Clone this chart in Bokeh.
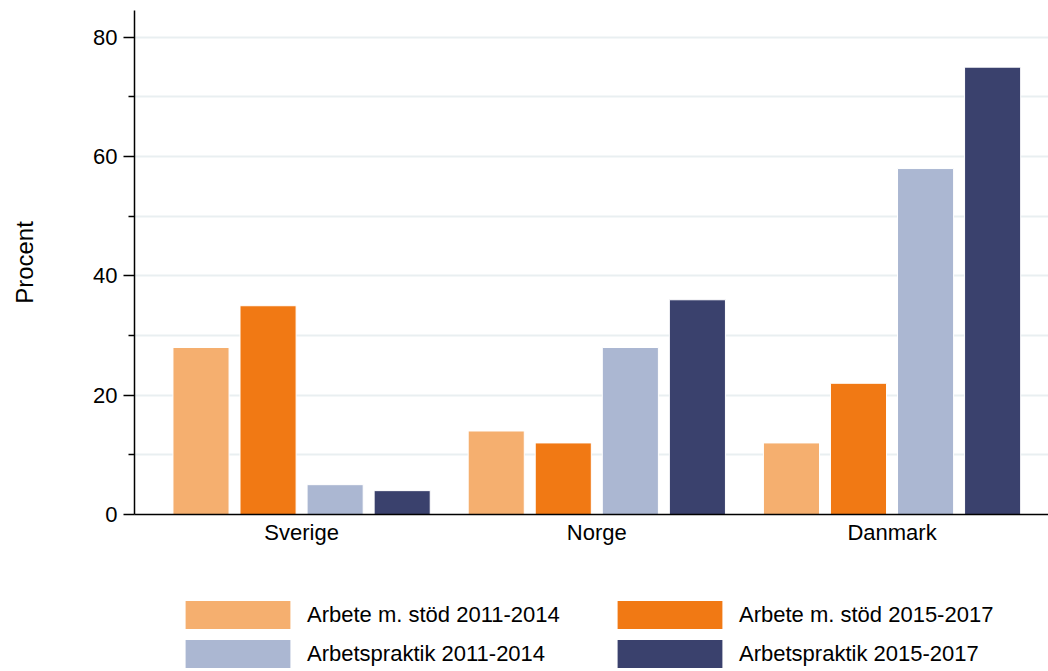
from bokeh.plotting import figure
from bokeh.layouts import column
from bokeh.models import (ColumnDataSource, Range1d, FixedTicker, Legend, LegendItem)
from bokeh.transform import dodge
from bokeh.embed import file_html
from bokeh.resources import INLINE

categories = ["Sverige", "Norge", "Danmark"]
series_names = ["Arbete m. stöd 2011-2014", "Arbete m. stöd 2015-2017",
                "Arbetspraktik 2011-2014", "Arbetspraktik 2015-2017"]
arbete_2011_2014 = [28, 14, 12]
arbete_2015_2017 = [35, 12, 22]
praktik_2011_2014 = [5, 28, 58]
praktik_2015_2017 = [4, 36, 75]
colors = ["#F5AF6F", "#F17914", "#ABB7D2", "#3A416D"]
y_major = [0, 20, 40, 60, 80]
y_minor = [10, 30, 50, 70]

idx = list(range(len(categories)))
source = ColumnDataSource(data=dict(
    x=idx, cat=categories,
    s0=arbete_2011_2014, s1=arbete_2015_2017,
    s2=praktik_2011_2014, s3=praktik_2015_2017))

FONT = "Liberation Sans"

p = figure(width=1048, height=560, output_backend="svg", toolbar_location=None,
           x_range=Range1d(-0.566, 2.530), y_range=Range1d(0, 84.5),
           min_border_top=10, min_border_bottom=46, min_border_left=134,
           min_border_right=0)
p.outline_line_color = None
p.background_fill_color = "white"
p.border_fill_color = "white"

offsets = [-0.3407, -0.1136, 0.1136, 0.3407]
for i, off in enumerate(offsets):
    p.vbar(x=dodge("x", off), top="s%d" % i, width=0.19, bottom=0,
           source=source, fill_color=colors[i], line_color="white", line_width=1)

# y axis
p.yaxis.ticker = FixedTicker(ticks=y_major, minor_ticks=y_minor)
p.yaxis.axis_label = "Procent"
p.yaxis.axis_label_text_font = FONT
p.yaxis.axis_label_text_font_style = "normal"
p.yaxis.axis_label_text_font_size = "24px"
p.yaxis.axis_label_text_color = "black"
p.yaxis.axis_label_standoff = 52
p.yaxis.major_label_text_font = FONT
p.yaxis.major_label_text_font_size = "22px"
p.yaxis.major_label_text_color = "black"
p.yaxis.major_label_standoff = 6
p.yaxis.major_tick_in = 0
p.yaxis.major_tick_out = 11
p.yaxis.minor_tick_in = 0
p.yaxis.minor_tick_out = 6
p.yaxis.axis_line_color = "black"
p.yaxis.axis_line_width = 1.5
p.yaxis.major_tick_line_width = 1.5
p.yaxis.minor_tick_line_width = 1.5

# x axis
p.xaxis.ticker = FixedTicker(ticks=idx)
p.xaxis.major_label_overrides = {i: c for i, c in zip(idx, categories)}
p.xaxis.major_label_text_font = FONT
p.xaxis.major_label_text_font_size = "22px"
p.xaxis.major_label_text_color = "black"
p.xaxis.major_label_standoff = 5
p.xaxis.major_tick_out = 0
p.xaxis.major_tick_in = 0
p.xaxis.minor_tick_out = 0
p.xaxis.minor_tick_in = 0
p.xaxis.axis_line_color = "black"
p.xaxis.axis_line_width = 1.5

# grid
p.xgrid.grid_line_color = None
p.ygrid.ticker = FixedTicker(ticks=y_major, minor_ticks=y_minor)
p.ygrid.grid_line_color = "#E9EFF1"
p.ygrid.grid_line_width = 2
p.ygrid.minor_grid_line_color = "#E9EFF1"
p.ygrid.minor_grid_line_width = 2

# legend panel (separate figure below the chart; its bars lie outside its ranges)
leg = figure(width=1048, height=111, output_backend="svg", toolbar_location=None,
             x_range=Range1d(100, 101), y_range=Range1d(100, 101),
             x_axis_type=None, y_axis_type=None,
             min_border_top=0, min_border_bottom=0, min_border_left=0,
             min_border_right=0)
leg.outline_line_color = None
leg.xgrid.visible = False
leg.ygrid.visible = False
leg_renderers = []
for i in range(4):
    r = leg.vbar(x="x", top="s%d" % i, width=0.19, bottom=0, source=source,
                 fill_color=colors[i], line_color=None)
    leg_renderers.append(r)

items = [LegendItem(label=n, renderers=[r]) for n, r in zip(series_names, leg_renderers)]
common = dict(orientation="horizontal",
              glyph_width=131, glyph_height=35, label_standoff=4, label_width=256,
              spacing=41, margin=0, padding=0, border_line_color=None,
              background_fill_alpha=0, label_text_font=FONT,
              label_text_font_size="22px", label_text_color="black")
legend1 = Legend(items=items[:2], location=(38, 39), **common)
legend2 = Legend(items=items[2:], location=(38, 0), **common)
leg.add_layout(legend1)
leg.add_layout(legend2)

open("out.html", "w").write(file_html(column(p, leg), INLINE))
